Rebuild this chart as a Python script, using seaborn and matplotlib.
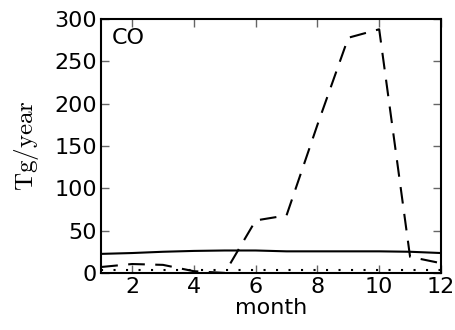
import matplotlib
matplotlib.use("Agg")
import matplotlib.pyplot as plt
import seaborn as sns
import pandas as pd

# monthly emissions (Tg/year)
months = [1, 2, 3, 4, 5, 6, 7, 8, 9, 10, 11, 12]
total = [22.5, 23.5, 25, 26, 26.5, 26.5, 25.5, 25.5, 25.5, 25.5, 25, 23.5]
fire = [7, 10.5, 9.5, 2, 0, 62, 68, 175, 278, 288, 19, 11.5]
other = [4, 4, 4, 4, 4, 4, 4, 4, 4, 4, 4, 4]

sns.set_style("ticks")
plt.rcParams['font.family'] = ['DejaVu Sans']
plt.rcParams['mathtext.fontset'] = 'cm'
plt.rcParams['xtick.direction'] = 'in'
plt.rcParams['ytick.direction'] = 'in'
for key in ['text.color', 'axes.labelcolor', 'xtick.labelcolor', 'ytick.labelcolor', 'axes.edgecolor']:
    plt.rcParams[key] = 'black'

df = pd.DataFrame({'month': months * 3,
                   'value': total + fire + other,
                   'series': ['total'] * 12 + ['fire'] * 12 + ['other'] * 12})

fig, ax = plt.subplots(figsize=(4.56, 3.3), dpi=100)
sns.lineplot(data=df, x='month', y='value', style='series',
             dashes={'total': '', 'fire': (8, 5), 'other': (1, 5)},
             color='black', linewidth=1.5, legend=False, ax=ax)

ax.set_xlim(1, 12)
ax.set_ylim(0, 300)
ax.set_xticks([2, 4, 6, 8, 10, 12])
ax.set_yticks([0, 50, 100, 150, 200, 250, 300])
ax.tick_params(labelsize=16, length=6, width=1, color='0.4', top=True, right=True, pad=3)
for s in ax.spines.values():
    s.set_linewidth(1.5)
ax.set_xlabel('month', fontsize=16, labelpad=1)
ax.set_ylabel(r'$\mathrm{Tg/year}$', fontsize=18, labelpad=10)
ax.text(0.03, 0.965, 'CO', transform=ax.transAxes, fontsize=16, va='top', ha='left')

fig.subplots_adjust(left=0.222, right=0.967, top=0.942, bottom=0.173)
fig.savefig('out.png', dpi=100)
